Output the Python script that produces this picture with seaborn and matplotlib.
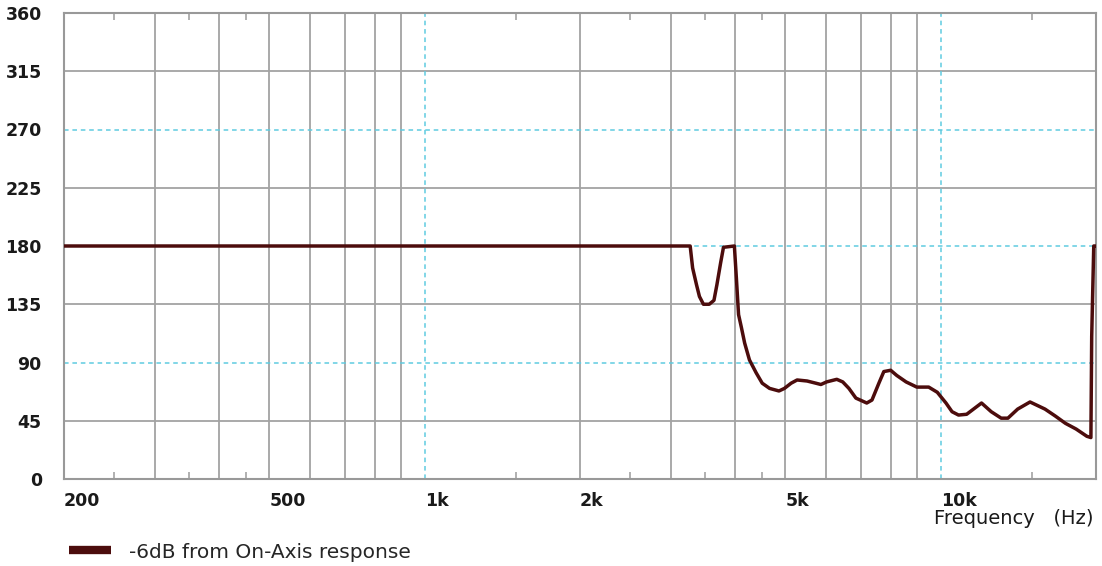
import matplotlib
matplotlib.use("Agg")
import matplotlib.pyplot as plt
from matplotlib.lines import Line2D
from matplotlib.ticker import FixedLocator, NullFormatter
import pandas as pd
import seaborn as sns

# ---- data ----
freq_hz = [200, 3270, 3306, 3364, 3408, 3469, 3560, 3636, 3684, 3746, 3794, 3983,
           4019, 4058, 4110, 4170, 4260, 4390, 4510, 4660, 4860, 4980, 5130, 5270,
           5510, 5730, 5860, 6010, 6290, 6460, 6640, 6850, 7190, 7360, 7590, 7760,
           8000, 8220, 8570, 8990, 9480, 9850, 10240, 10520, 10830, 11230, 12000,
           12530, 13100, 13500, 14100, 14900, 15930, 16670, 17450, 18300, 19200,
           19550, 19620, 19800, 19950]
phase_deg = [180, 180, 163, 150, 141, 135, 135, 138, 150, 167, 179, 180,
             155, 127, 117, 105, 92, 82, 74, 70, 68, 70, 74, 76.5,
             75.7, 74, 73, 75, 77, 75, 70, 62.5, 58.7, 61, 74, 83,
             84, 80, 75, 71, 71, 67, 58.7, 52, 49.4, 50, 58.7,
             52, 47, 47, 54, 59.5, 54, 48.7, 43, 38.6, 33,
             32, 110, 180, 180]
series_label = "-6dB from On-Axis response"

x_tick_values = [200, 500, 1000, 2000, 5000, 10000]
x_tick_labels = ["200", "500", "1k", "2k", "5k", "10k"]
x_minor_ticks = [250, 350, 450, 1500, 2500, 3500, 4500, 15000]
x_grid_grey = [300, 400, 500, 600, 700, 800, 900,
               2000, 3000, 4000, 5000, 6000, 7000, 8000, 9000]
x_grid_cyan = [1000, 10000]
y_tick_values = [0, 45, 90, 135, 180, 225, 270, 315, 360]
y_grid_grey = [45, 135, 225, 315]
y_grid_cyan = [90, 180, 270]

LINE_COLOR = "#4c0c0c"
GREY = "#a3a3a3"
CYAN = "#5fcbe0"

sns.set_style("white")
plt.rcParams["font.family"] = ["DejaVu Sans"]

W, H = 1102, 566
fig = plt.figure(figsize=(W / 100, H / 100), dpi=100)
ax = fig.add_axes([64 / W, (H - 479) / H, (1096 - 64) / W, (479 - 13) / H])
ax.set_xscale("log")

df = pd.DataFrame({"freq": freq_hz, "phase": phase_deg, "series": series_label})
sns.lineplot(data=df, x="freq", y="phase", hue="series", palette=[LINE_COLOR],
             linewidth=2.5, sort=False, estimator=None, ax=ax, legend=False, zorder=3)

ax.set_xlim(200, 20000)
ax.set_ylim(0, 360)

# grid lines
for xv in x_grid_grey:
    ax.axvline(xv, color=GREY, lw=1.3, zorder=0.5)
for xv in x_grid_cyan:
    ax.axvline(xv, color=CYAN, lw=1.1, ls=(0, (3, 2.5)), zorder=0.6)
for yv in y_grid_grey:
    ax.axhline(yv, color=GREY, lw=1.3, zorder=0.5)
for yv in y_grid_cyan:
    ax.axhline(yv, color=CYAN, lw=1.1, ls=(0, (3, 2.5)), zorder=0.6)

# ticks
ax.set_xticks(x_tick_values)
ax.set_xticklabels(x_tick_labels, ha="left", fontsize=12.5, fontweight="bold", color="#1a1a1a")
ax.xaxis.set_minor_locator(FixedLocator(x_minor_ticks))
ax.xaxis.set_minor_formatter(NullFormatter())
ax.tick_params(axis="x", which="major", length=0, pad=9)
ax.tick_params(axis="x", which="minor", direction="in", length=5, width=1.2,
               color=GREY, top=True, bottom=True)
ax.set_yticks(y_tick_values)
ax.set_yticklabels([str(v) for v in y_tick_values], fontsize=12.5,
                   fontweight="bold", color="#1a1a1a")
ax.tick_params(axis="y", length=0, pad=16)
ax.set_xlabel("")
ax.set_ylabel("")

for s in ax.spines.values():
    s.set_color("#999999")
    s.set_linewidth(1.5)
    s.set_visible(True)

fig.text(1094 / W, 1 - 519 / H, "Frequency   (Hz)", ha="right", va="center",
         fontsize=14, color="#1a1a1a")

handle = Line2D([], [], color=LINE_COLOR, lw=6, solid_capstyle="butt")
fig.legend([handle], [series_label], loc="center left",
           bbox_to_anchor=(69 / W, 1 - 552 / H), frameon=False, borderpad=0,
           borderaxespad=0, handlelength=2.1, handletextpad=0.9,
           prop={"size": 14.5})

fig.savefig("out.png", dpi=100)
